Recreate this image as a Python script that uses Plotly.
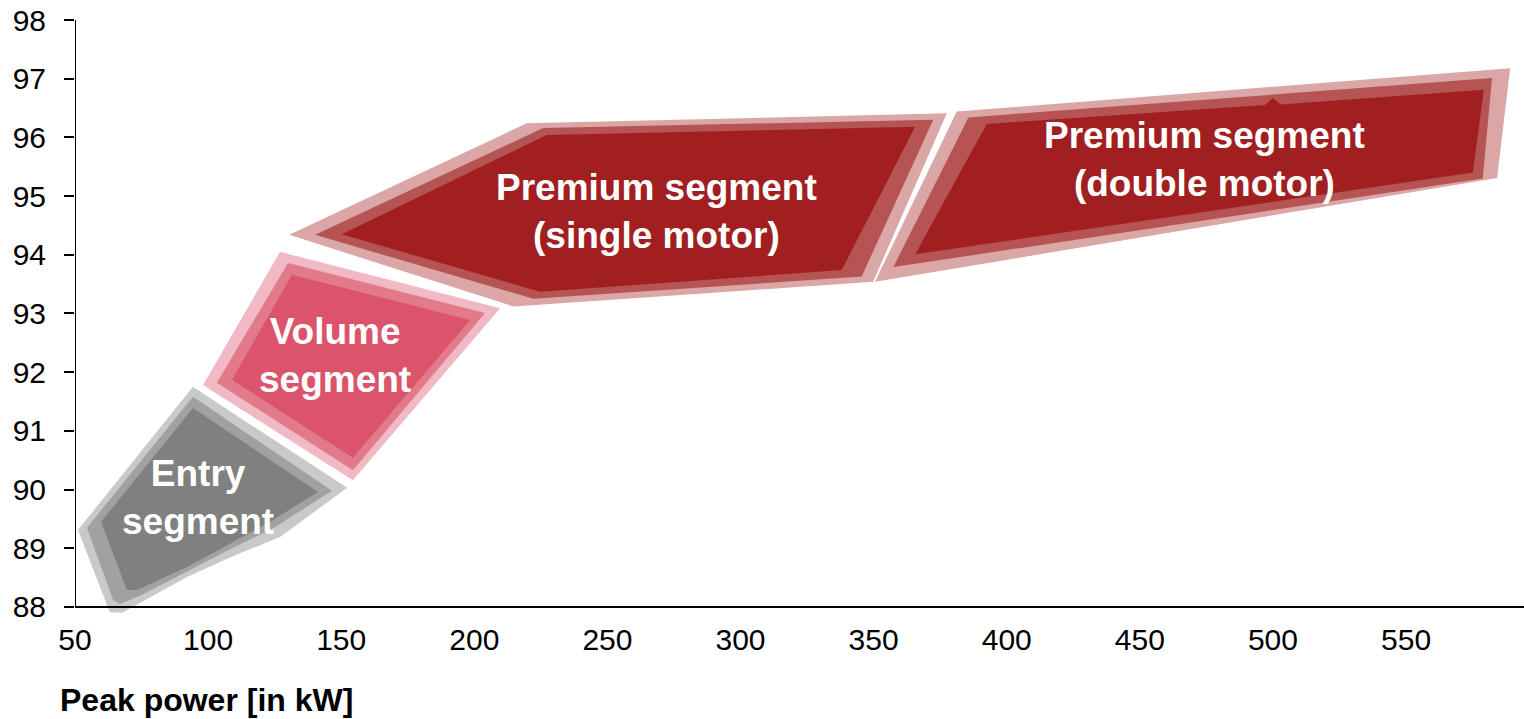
import plotly.graph_objects as go

# Axis ticks
x_ticks = [50, 100, 150, 200, 250, 300, 350, 400, 450, 500, 550]
y_ticks = [88, 89, 90, 91, 92, 93, 94, 95, 96, 97, 98]

# Segment areas: peak power [kW] vs. efficiency [%], each drawn as three nested rings
entry_outer_x = [94.3, 152.2, 127.0, 108.0, 92.1, 76.3, 67.7, 63.1, 51.1]
entry_outer_y = [91.75, 90.03, 89.19, 88.84, 88.51, 88.12, 87.90, 87.91, 89.31]
entry_mid_x = [94.3, 146.5, 125.1, 108.0, 93.2, 74.4, 66.9, 64.3, 54.5]
entry_mid_y = [91.58, 89.98, 89.36, 88.98, 88.63, 88.19, 88.05, 88.12, 89.35]
entry_inner_x = [94.3, 141.3, 124.4, 108.0, 92.1, 73.3, 69.5, 59.8]
entry_inner_y = [91.39, 89.96, 89.48, 89.08, 88.68, 88.29, 88.29, 89.45]

volume_outer_x = [127.0, 209.7, 154.4, 98.1]
volume_outer_y = [94.05, 93.09, 90.16, 91.78]
volume_mid_x = [130.0, 204.0, 154.4, 103.3]
volume_mid_y = [93.86, 93.01, 90.33, 91.82]
volume_inner_x = [131.5, 198.4, 154.4, 109.0]
volume_inner_y = [93.66, 92.89, 90.54, 91.87]

single_outer_x = [130.5, 219.7, 377.5, 349.8, 214.7]
single_outer_y = [94.34, 96.24, 96.41, 93.54, 93.12]
single_mid_x = [140.2, 225.9, 372.4, 345.5, 222.2]
single_mid_y = [94.34, 96.16, 96.30, 93.63, 93.25]
single_inner_x = [150.2, 227.2, 365.6, 338.0, 224.7]
single_inner_y = [94.35, 96.04, 96.18, 93.74, 93.37]

double_outer_x = [381.2, 589.1, 584.2, 350.5]
double_outer_y = [96.44, 97.18, 95.31, 93.54]
double_mid_x = [385.6, 582.3, 578.8, 357.4]
double_mid_y = [96.34, 97.01, 95.30, 93.79]
double_inner_x = [392.5, 497.0, 500.0, 503.0, 579.2, 575.1, 365.6]
double_inner_y = [96.23, 96.55, 96.67, 96.56, 96.81, 95.40, 94.01]

segment_names = ["Entry<br>segment", "Volume<br>segment",
                 "Premium segment<br>(single motor)", "Premium segment<br>(double motor)"]
label_x = [96.2, 147.7, 268.6, 474.1]
label_y = [89.86, 92.29, 94.73, 95.62]

rings = [
    [(entry_outer_x, entry_outer_y), (entry_mid_x, entry_mid_y), (entry_inner_x, entry_inner_y)],
    [(volume_outer_x, volume_outer_y), (volume_mid_x, volume_mid_y), (volume_inner_x, volume_inner_y)],
    [(single_outer_x, single_outer_y), (single_mid_x, single_mid_y), (single_inner_x, single_inner_y)],
    [(double_outer_x, double_outer_y), (double_mid_x, double_mid_y), (double_inner_x, double_inner_y)],
]
palettes = [
    ["#c9c9c9", "#a1a1a1", "#808080"],
    ["#f0b9c3", "#e27a8b", "#db546b"],
    ["#daa6a6", "#b65353", "#a11f21"],
    ["#daa6a6", "#b65353", "#a11f21"],
]

FONT = "Arial, 'Liberation Sans', sans-serif"
X_MAX = 594.3

fig = go.Figure()
for seg_rings, colors in zip(rings, palettes):
    for (xs, ys), col in zip(seg_rings, colors):
        fig.add_trace(go.Scatter(
            x=xs + xs[:1], y=ys + ys[:1], mode="lines", fill="toself",
            fillcolor=col, line=dict(width=0, color=col, shape="linear"),
            hoverinfo="skip", showlegend=False,
        ))

for name, lx, ly in zip(segment_names, label_x, label_y):
    fig.add_annotation(
        x=lx, y=ly, xref="x", yref="y", text=f"<b>{name}</b>", showarrow=False,
        font=dict(family=FONT, size=37, color="white"), align="center",
        xanchor="center", yanchor="middle",
    )

fig.add_annotation(
    x=-0.0117, y=-0.145, xref="paper", yref="paper", text="<b>Peak power [in kW]</b>",
    showarrow=False, xanchor="left", yanchor="middle",
    font=dict(family=FONT, size=32, color="black"),
)

# Axis lines
fig.add_shape(type="line", xref="x", yref="y", x0=50, x1=X_MAX, y0=88, y1=88,
              line=dict(color="black", width=2), layer="above")
fig.add_shape(type="line", xref="x", yref="y", x0=50, x1=50, y0=88, y1=98,
              line=dict(color="black", width=2), layer="above")

fig.update_layout(
    width=1524, height=719,
    margin=dict(l=75, r=0, t=20, b=105),
    paper_bgcolor="white", plot_bgcolor="white",
    font=dict(family=FONT, color="black"),
    xaxis=dict(range=[50, X_MAX], tickvals=x_ticks, ticks="", showline=False,
               showgrid=False, zeroline=False, tickfont=dict(size=30, color="black"),
               ticklabelstandoff=5),
    yaxis=dict(range=[87.88, 98], tickvals=y_ticks, ticks="outside", ticklen=10,
               tickwidth=2, tickcolor="black", showline=False, showgrid=False,
               zeroline=False, tickfont=dict(size=30, color="black"),
               ticklabelstandoff=12),
)

fig.write_html("out.html")
